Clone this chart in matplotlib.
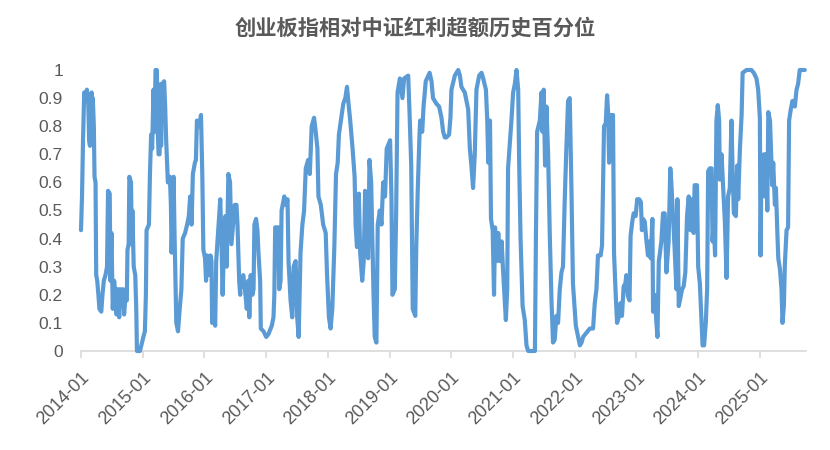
import matplotlib
matplotlib.use("Agg")
import matplotlib.pyplot as plt
import pandas as pd

# ---- data ----
y2014 = [("2014-01-01",0.43),("2014-01-07",0.55),("2014-01-13",0.75),("2014-01-20",0.92),("2014-01-28",0.90),
         ("2014-02-05",0.93),("2014-02-13",0.88),("2014-02-18",0.75),("2014-02-23",0.73),("2014-02-27",0.90),
         ("2014-03-05",0.92),("2014-03-08",0.78),("2014-03-12",0.90),("2014-03-18",0.80),("2014-03-22",0.62),
         ("2014-03-28",0.60),("2014-04-01",0.27),("2014-04-07",0.25),("2014-04-14",0.20),("2014-04-20",0.15),
         ("2014-05-01",0.14),("2014-05-08",0.20),("2014-05-16",0.25),("2014-05-26",0.27),("2014-06-04",0.30),
         ("2014-06-10",0.57),("2014-06-20",0.56),("2014-06-24",0.25),("2014-06-30",0.42),("2014-07-08",0.15),
         ("2014-07-16",0.25),("2014-07-24",0.20),("2014-07-30",0.13),("2014-08-07",0.22),("2014-08-15",0.12),
         ("2014-08-22",0.22),("2014-08-30",0.16),("2014-09-07",0.22),("2014-09-13",0.13),("2014-09-21",0.19),
         ("2014-09-29",0.18),("2014-10-03",0.36),("2014-10-10",0.38),("2014-10-14",0.62),("2014-10-24",0.60),
         ("2014-10-28",0.38),("2014-11-01",0.50),("2014-11-09",0.30),("2014-11-18",0.27),("2014-11-24",0.15),
         ("2014-11-28",0.00),("2014-12-16",0.00),("2014-12-24",0.02)]
y2015 = [("2015-01-05",0.05),("2015-01-14",0.07),("2015-01-20",0.20),("2015-01-24",0.43),("2015-02-07",0.45),
         ("2015-02-13",0.63),("2015-02-20",0.77),("2015-02-26",0.72),("2015-03-06",0.93),("2015-03-12",0.78),
         ("2015-03-18",1.00),("2015-03-26",1.00),("2015-03-30",0.80),("2015-04-05",0.70),("2015-04-11",0.70),
         ("2015-04-17",0.95),("2015-04-20",0.73),("2015-04-26",0.95),("2015-05-08",0.96),("2015-05-14",0.87),
         ("2015-05-20",0.75),("2015-05-30",0.60),("2015-06-11",0.62),("2015-06-17",0.52),("2015-06-21",0.35),
         ("2015-07-03",0.62),("2015-07-09",0.40),("2015-07-19",0.10),("2015-07-29",0.07),("2015-08-08",0.15),
         ("2015-08-18",0.22),("2015-08-26",0.40),("2015-09-09",0.42),("2015-09-21",0.45),("2015-10-01",0.48),
         ("2015-10-09",0.55),("2015-10-17",0.45),("2015-10-25",0.63),("2015-11-06",0.67),("2015-11-12",0.68),
         ("2015-11-18",0.82),("2015-12-02",0.80),("2015-12-12",0.84),("2015-12-20",0.62),("2015-12-26",0.36)]
y2016 = [("2016-01-05",0.33),("2016-01-11",0.25),("2016-01-17",0.34),("2016-01-27",0.27),("2016-02-06",0.34),
         ("2016-02-12",0.32),("2016-02-16",0.10),("2016-02-26",0.13),("2016-03-05",0.09),("2016-03-11",0.32),
         ("2016-03-23",0.43),("2016-04-04",0.54),("2016-04-10",0.42),("2016-04-18",0.20),("2016-04-26",0.38),
         ("2016-05-04",0.48),("2016-05-12",0.30),("2016-05-22",0.63),("2016-06-01",0.60),("2016-06-09",0.38),
         ("2016-06-19",0.45),("2016-06-29",0.52),("2016-07-09",0.52),("2016-07-15",0.45),("2016-07-25",0.25),
         ("2016-07-31",0.20),("2016-08-03",0.25),("2016-08-09",0.23),("2016-08-18",0.27),("2016-08-28",0.22),
         ("2016-09-08",0.15),("2016-09-17",0.25),("2016-09-23",0.12),("2016-10-01",0.27),("2016-10-11",0.20),
         ("2016-10-18",0.22),("2016-10-23",0.45),("2016-11-02",0.47),("2016-11-10",0.43),("2016-11-16",0.35),
         ("2016-11-26",0.25),("2016-11-30",0.08),("2016-12-16",0.07)]
y2017 = [("2017-01-01",0.05),("2017-01-14",0.06),("2017-02-03",0.09),("2017-02-13",0.12),("2017-02-18",0.20),
         ("2017-02-23",0.44),("2017-03-13",0.44),("2017-03-19",0.22),("2017-03-27",0.25),("2017-04-02",0.50),
         ("2017-04-18",0.55),("2017-04-28",0.52),("2017-05-07",0.54),("2017-05-13",0.32),("2017-05-25",0.18),
         ("2017-06-04",0.12),("2017-06-12",0.30),("2017-06-24",0.32),("2017-07-02",0.13),("2017-07-12",0.05),
         ("2017-07-23",0.35),("2017-08-03",0.45),("2017-08-13",0.50),("2017-08-23",0.65),("2017-09-06",0.68),
         ("2017-09-16",0.63),("2017-09-27",0.80),("2017-10-11",0.83),("2017-10-21",0.78),("2017-10-31",0.72),
         ("2017-11-06",0.55),("2017-11-20",0.52),("2017-12-04",0.45),("2017-12-19",0.42),("2017-12-27",0.27)]
y2018 = [("2018-01-07",0.12),("2018-01-17",0.08),("2018-01-27",0.15),("2018-02-08",0.37),("2018-02-18",0.63),
         ("2018-02-28",0.67),("2018-03-07",0.77),("2018-03-21",0.83),("2018-04-02",0.88),("2018-04-14",0.90),
         ("2018-04-24",0.94),("2018-05-03",0.88),("2018-05-13",0.82),("2018-05-27",0.72),("2018-06-08",0.62),
         ("2018-06-14",0.45),("2018-06-22",0.37),("2018-07-03",0.56),("2018-07-11",0.35),("2018-07-23",0.25),
         ("2018-08-01",0.32),("2018-08-09",0.57),("2018-08-17",0.40),("2018-08-27",0.33),("2018-09-04",0.68),
         ("2018-09-14",0.60),("2018-09-22",0.37),("2018-09-28",0.20),("2018-10-05",0.05),("2018-10-15",0.03),
         ("2018-10-23",0.45),("2018-11-04",0.50),("2018-11-14",0.45),("2018-11-24",0.60),("2018-12-05",0.55),
         ("2018-12-15",0.72)]
y2019 = [("2019-01-04",0.75),("2019-01-12",0.55),("2019-01-18",0.20),("2019-02-01",0.22),("2019-02-09",0.50),
         ("2019-02-17",0.92),("2019-03-03",0.97),("2019-03-18",0.90),("2019-03-28",0.97),("2019-04-21",0.98),
         ("2019-04-29",0.85),("2019-05-09",0.66),("2019-05-18",0.15),("2019-06-02",0.125),("2019-06-08",0.375),
         ("2019-06-17",0.58),("2019-06-27",0.77),("2019-07-01",0.82),("2019-07-13",0.78),("2019-07-21",0.87),
         ("2019-08-03",0.96),("2019-08-26",0.99),("2019-09-06",0.96),("2019-09-15",0.90),("2019-10-05",0.88),
         ("2019-10-21",0.87),("2019-11-04",0.83),("2019-11-14",0.78),("2019-11-24",0.76),("2019-12-03",0.76),
         ("2019-12-19",0.77),("2019-12-27",0.83)]
y2020 = [("2020-01-02",0.93),("2020-01-22",0.98),("2020-02-11",1.00),("2020-02-21",0.98),("2020-03-01",0.94),
         ("2020-03-21",0.92),("2020-04-10",0.86),("2020-04-20",0.72),("2020-04-29",0.66),("2020-05-09",0.58),
         ("2020-05-19",0.70),("2020-05-29",0.93),("2020-06-14",0.98),("2020-06-28",0.99),("2020-07-08",0.97),
         ("2020-07-24",0.93),("2020-08-01",0.82),("2020-08-07",0.67),("2020-08-17",0.82),("2020-08-23",0.47),
         ("2020-09-02",0.43),("2020-09-10",0.20),("2020-09-16",0.44),("2020-09-26",0.32),("2020-10-05",0.42),
         ("2020-10-15",0.32),("2020-10-25",0.39),("2020-11-03",0.28),("2020-11-19",0.11),("2020-11-27",0.22),
         ("2020-12-02",0.65),("2020-12-22",0.82)]
y2021 = [("2021-01-01",0.92),("2021-01-11",0.95),("2021-01-21",1.00),("2021-01-31",0.93),("2021-02-06",0.66),
         ("2021-02-14",0.40),("2021-02-26",0.16),("2021-03-11",0.11),("2021-03-21",0.02),("2021-03-31",0.00),
         ("2021-05-10",0.00),("2021-05-16",0.41),("2021-05-23",0.78),("2021-06-08",0.82),("2021-06-18",0.92),
         ("2021-06-24",0.78),("2021-07-01",0.93),("2021-07-09",0.66),("2021-07-17",0.87),("2021-07-27",0.70),
         ("2021-08-06",0.41),("2021-08-16",0.18),("2021-08-25",0.03),("2021-09-04",0.04),("2021-09-14",0.125),
         ("2021-09-24",0.10),("2021-10-04",0.22),("2021-10-14",0.28),("2021-10-23",0.30),("2021-11-02",0.53),
         ("2021-11-12",0.72),("2021-11-22",0.89),("2021-12-02",0.90),("2021-12-12",0.58),("2021-12-21",0.24)]
y2022 = [("2022-01-07",0.09),("2022-01-21",0.05),("2022-01-31",0.02),("2022-02-10",0.03),("2022-02-19",0.05),
         ("2022-03-11",0.065),("2022-03-31",0.08),("2022-04-19",0.08),("2022-04-29",0.17),("2022-05-09",0.22),
         ("2022-05-18",0.34),("2022-05-24",0.34),("2022-06-03",0.34),("2022-06-11",0.375),("2022-06-17",0.58),
         ("2022-06-23",0.80),("2022-07-03",0.81),("2022-07-11",0.91),("2022-07-17",0.85),("2022-07-23",0.67),
         ("2022-07-31",0.84),("2022-08-06",0.68),("2022-08-15",0.84),("2022-08-21",0.35),("2022-08-31",0.20),
         ("2022-09-08",0.10),("2022-09-20",0.125),("2022-09-28",0.17),("2022-10-07",0.125),("2022-10-17",0.23),
         ("2022-10-27",0.24),("2022-11-02",0.27),("2022-11-11",0.195),("2022-11-21",0.18),("2022-11-27",0.41),
         ("2022-12-07",0.46),("2022-12-15",0.49),("2022-12-27",0.48)]
y2023 = [("2023-01-05",0.54),("2023-01-17",0.54),("2023-01-27",0.53),("2023-02-02",0.43),("2023-02-09",0.47),
         ("2023-02-19",0.46),("2023-03-01",0.39),("2023-03-10",0.34),("2023-03-20",0.39),("2023-03-26",0.33),
         ("2023-04-05",0.47),("2023-04-09",0.14),("2023-04-19",0.20),("2023-04-29",0.10),("2023-05-05",0.05),
         ("2023-05-13",0.32),("2023-05-18",0.34),("2023-05-28",0.39),("2023-06-07",0.49),("2023-06-17",0.49),
         ("2023-06-27",0.28),("2023-07-02",0.32),("2023-07-10",0.39),("2023-07-20",0.65),("2023-07-26",0.60),
         ("2023-08-05",0.48),("2023-08-15",0.36),("2023-08-25",0.22),("2023-08-31",0.54),("2023-09-08",0.16),
         ("2023-09-18",0.19),("2023-09-28",0.22),("2023-10-07",0.23),("2023-10-17",0.28),("2023-10-27",0.48),
         ("2023-11-06",0.55),("2023-11-16",0.43),("2023-11-25",0.54),("2023-12-05",0.42),("2023-12-11",0.59),
         ("2023-12-25",0.59)]
y2024 = [("2024-01-01",0.30),("2024-01-11",0.24),("2024-01-21",0.10),("2024-01-27",0.02),("2024-02-05",0.02),
         ("2024-02-15",0.10),("2024-02-23",0.22),("2024-02-29",0.64),("2024-03-10",0.65),("2024-03-20",0.65),
         ("2024-03-26",0.39),("2024-04-02",0.46),("2024-04-10",0.34),("2024-04-18",0.82),("2024-04-26",0.875),
         ("2024-05-04",0.82),("2024-05-08",0.61),("2024-05-18",0.70),("2024-05-28",0.58),("2024-06-07",0.46),
         ("2024-06-17",0.26),("2024-06-26",0.55),("2024-07-06",0.58),("2024-07-16",0.82),("2024-07-22",0.66),
         ("2024-07-30",0.49),("2024-08-11",0.48),("2024-08-19",0.66),("2024-08-25",0.54),("2024-09-04",0.72),
         ("2024-09-14",0.84),("2024-09-20",0.99),("2024-10-13",1.00),("2024-11-11",1.00),("2024-11-25",0.99),
         ("2024-12-11",0.97),("2024-12-21",0.93),("2024-12-31",0.83)]
y2025 = [("2025-01-04",0.34),("2025-01-10",0.67),("2025-01-16",0.58),("2025-01-24",0.70),("2025-01-30",0.55),
         ("2025-02-05",0.70),("2025-02-13",0.50),("2025-02-19",0.85),("2025-03-01",0.82),("2025-03-06",0.73),
         ("2025-03-14",0.59),("2025-03-20",0.67),("2025-03-30",0.52),("2025-04-05",0.58),("2025-04-13",0.43),
         ("2025-04-19",0.33),("2025-04-29",0.29),("2025-05-08",0.22),("2025-05-14",0.10),("2025-05-22",0.16),
         ("2025-05-28",0.31),("2025-06-07",0.43),("2025-06-16",0.44),("2025-06-22",0.82),("2025-07-02",0.86),
         ("2025-07-12",0.89),("2025-07-26",0.87),("2025-08-05",0.93),("2025-08-14",0.95),("2025-08-24",1.00),
         ("2025-09-23",1.00)]

title = "创业板指相对中证红利超额历史百分位"
ytick_vals = [0, 0.1, 0.2, 0.3, 0.4, 0.5, 0.6, 0.7, 0.8, 0.9, 1]
ytick_labels = ["0", "0.1", "0.2", "0.3", "0.4", "0.5", "0.6", "0.7", "0.8", "0.9", "1"]
xtick_labels = ["2014-01", "2015-01", "2016-01", "2017-01", "2018-01", "2019-01",
                "2020-01", "2021-01", "2022-01", "2023-01", "2024-01", "2025-01"]

# ---- build series ----
rows = y2014 + y2015 + y2016 + y2017 + y2018 + y2019 + y2020 + y2021 + y2022 + y2023 + y2024 + y2025
df = pd.DataFrame(rows, columns=["date", "pct"])
df["date"] = pd.to_datetime(df["date"])

plt.rcParams["font.family"] = ["Liberation Sans", "DejaVu Sans"]

fig = plt.figure(figsize=(8.3, 4.5), dpi=100)
ax = fig.add_axes([81/830, 1 - 351/450, (806 - 81)/830, (351 - 70)/450])

ax.plot(df["date"], df["pct"], color="#5B9BD5", linewidth=3.0,
        solid_joinstyle="round", solid_capstyle="round", clip_on=False, zorder=3)

ax.set_ylim(0, 1)
ax.set_xlim(pd.Timestamp("2014-01-01"), pd.Timestamp("2025-09-30"))

ax.set_yticks(ytick_vals)
ax.set_yticklabels(ytick_labels)
xticks = pd.to_datetime([s + "-01" for s in xtick_labels])
ax.set_xticks(xticks)
ax.set_xticklabels(xtick_labels, rotation=45, ha="right", va="top", rotation_mode="anchor")

for s in ["left", "right", "top"]:
    ax.spines[s].set_visible(False)
ax.spines["bottom"].set_color("#d9d9d9")
ax.spines["bottom"].set_linewidth(1.2)

ax.tick_params(axis="y", length=0, pad=13, labelsize=12.5, labelcolor="#595959")
ax.tick_params(axis="x", length=5, width=1.2, color="#d9d9d9", pad=8,
               labelsize=13, labelcolor="#595959")

fig.text(0.5, 1 - 28/450, title, ha="center", va="center", fontsize=15.3,
         fontweight="bold", color="#595959", family=["Noto Sans CJK SC", "DejaVu Sans"])

fig.savefig("out.png", dpi=100)
